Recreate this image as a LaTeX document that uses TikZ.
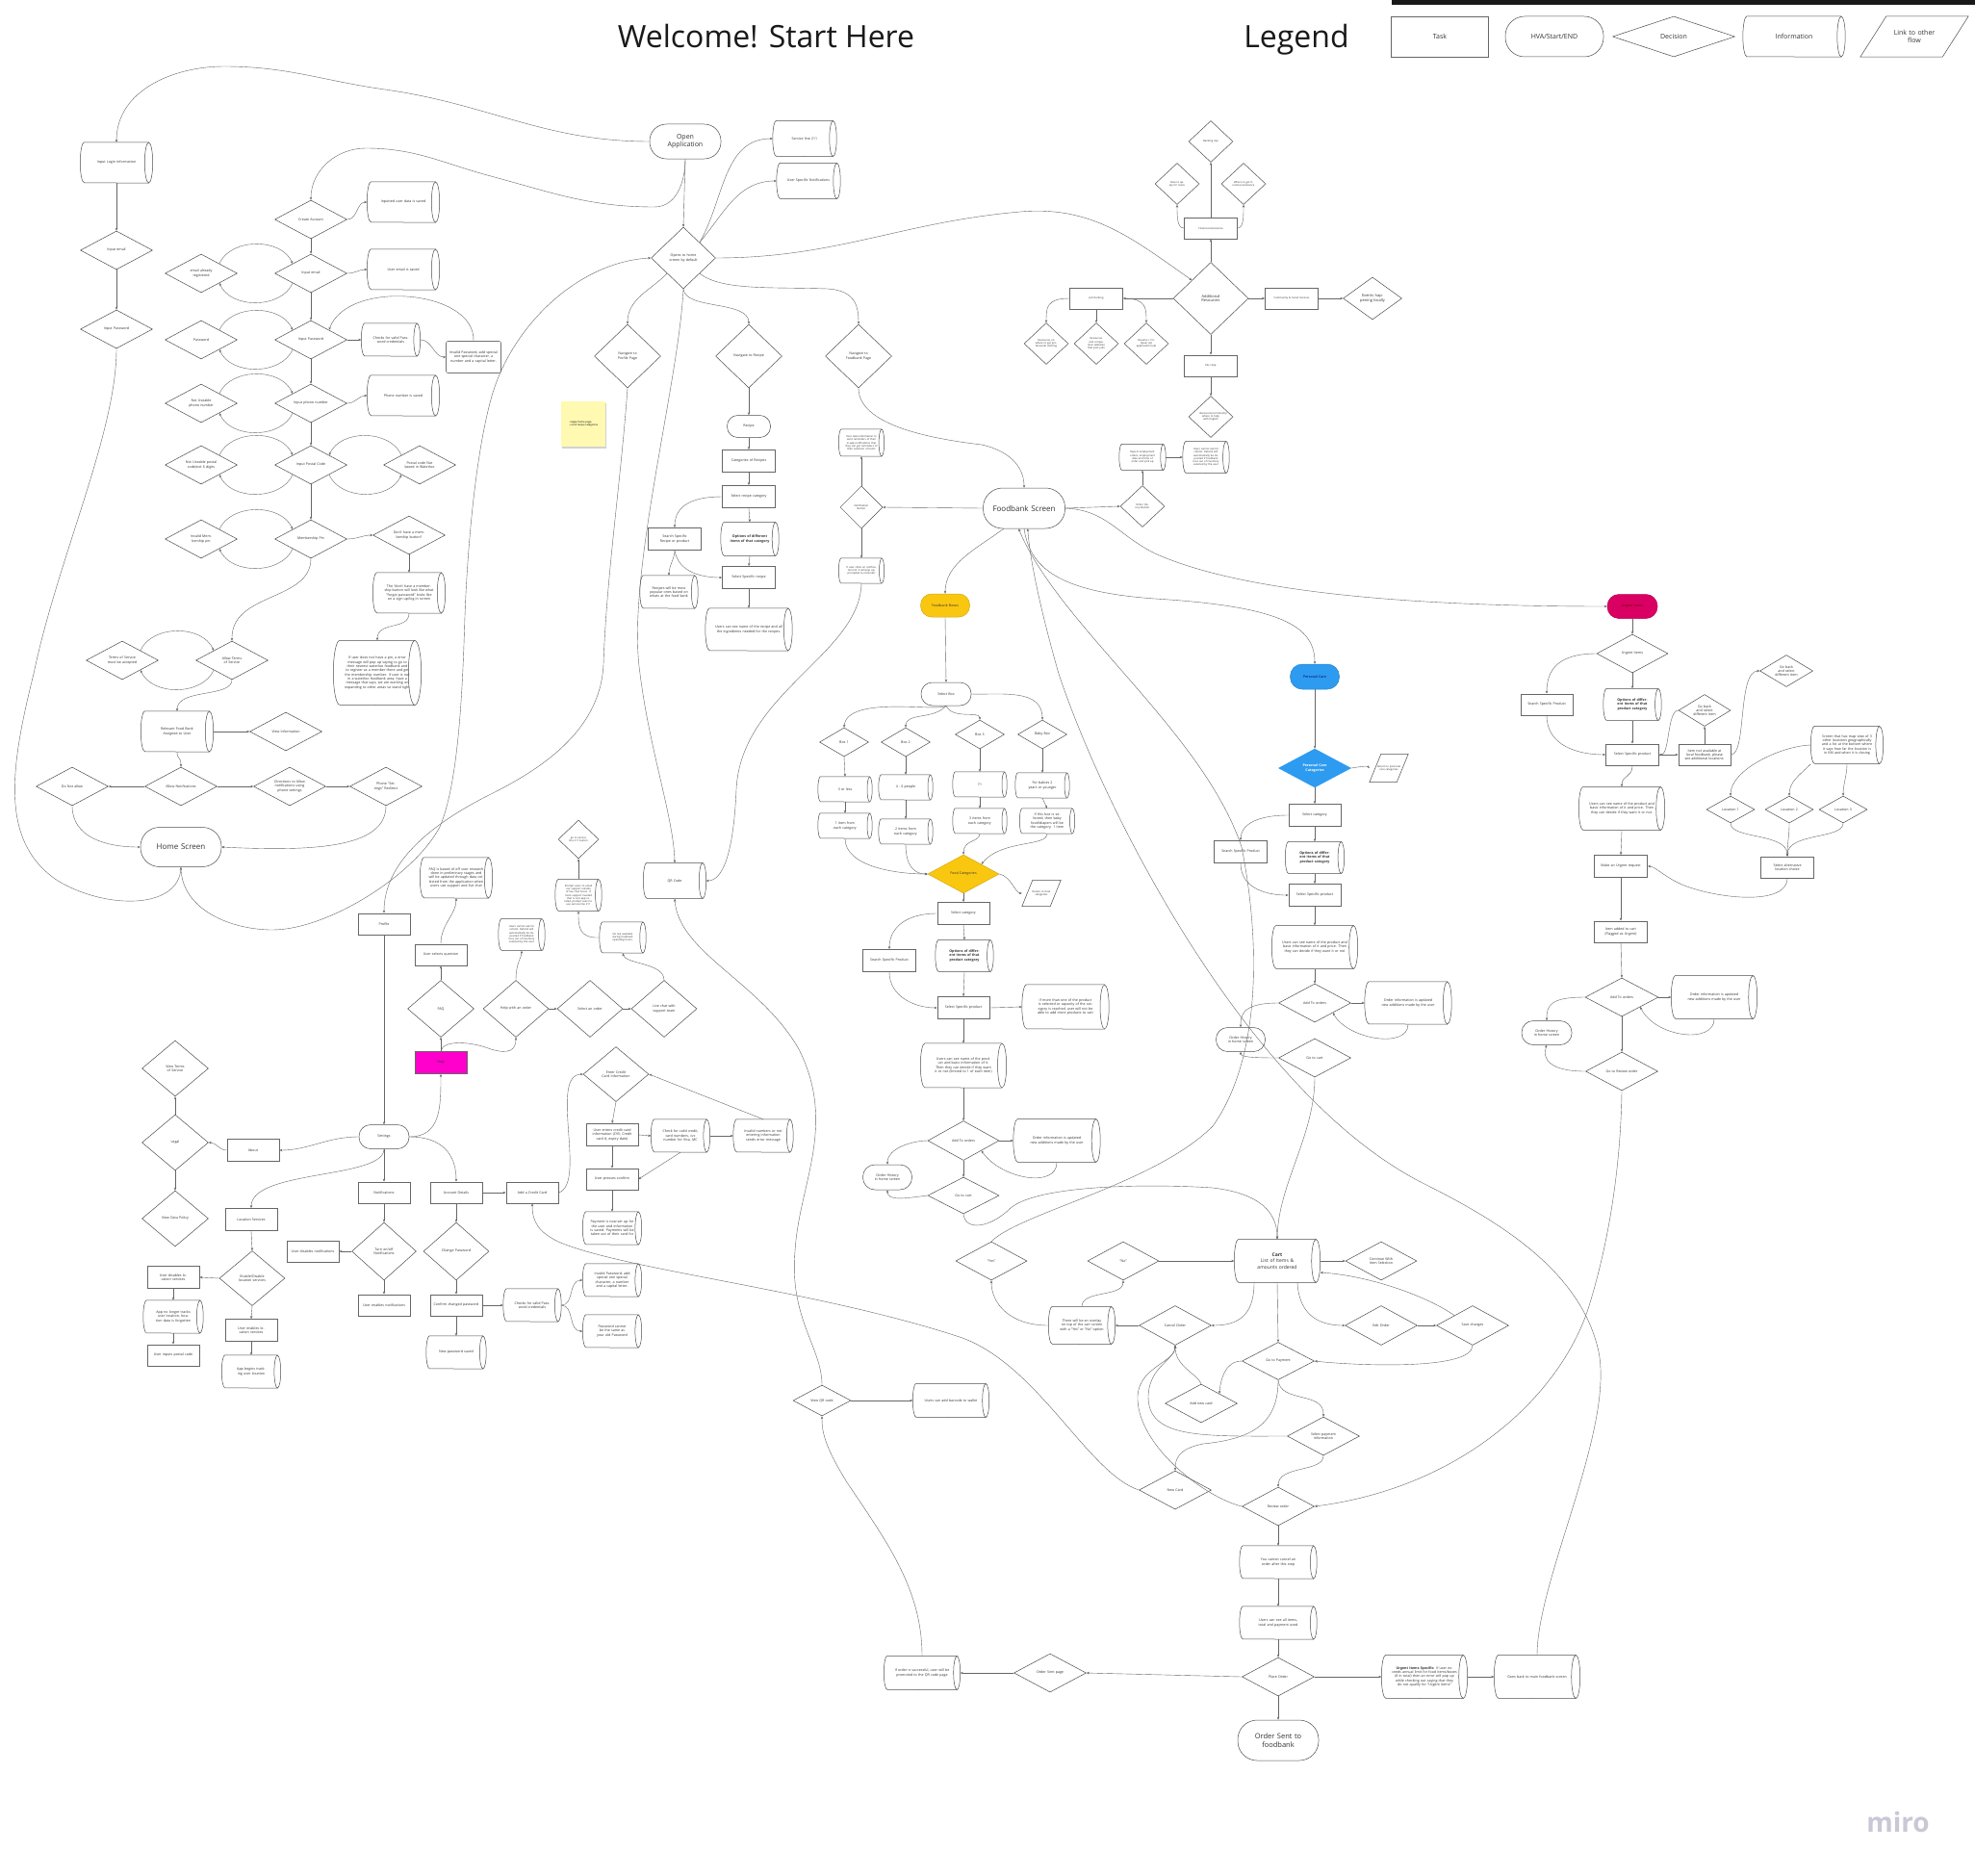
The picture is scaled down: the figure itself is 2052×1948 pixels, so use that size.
\documentclass[tikz,border=0pt]{standalone}
\usepackage{fontspec}
\setmainfont{Open Sans}
\usetikzlibrary{shapes.geometric,arrows.meta,calc,shadows}

\definecolor{fbyellow}{HTML}{FAC710}
\definecolor{pcblue}{HTML}{2D9BF0}
\definecolor{urgpink}{HTML}{DA0063}
\definecolor{helpmag}{HTML}{FF00CC}
\definecolor{stickyy}{HTML}{FFF9B1}
\definecolor{mirogray}{HTML}{C8C8D6}

\newcommand\tf{\fontsize{3.6}{4.3}\selectfont}
\newcommand\xf{\fontsize{2.7}{3.2}\selectfont}
\newcommand\lf{\fontsize{7}{8.4}\selectfont}

\tikzset{
  base/.style={font=\tf, align=center, inner sep=0pt, text=black!80},
  shp/.style={draw=black!70, line width=0.5pt},
  decn/.style={base, diamond, shp, aspect=1.8},
  taskn/.style={base, rectangle, draw=black!60, line width=0.9pt},
  ar/.style={draw=black!60, line width=0.4pt, -{Stealth[length=3pt,width=2.4pt]}},
}

% decision: name, x, y (downwards), width, height, text
\newcommand\nDec[7][]{\pgfmathsetmacro\twid{0.5*#5}%
  \node[decn,minimum width=#5pt,minimum height=#6pt,text width=\twid pt,#1] (#2) at (#3,-#4) {#7};}
% task box
\newcommand\nTask[7][]{\pgfmathsetmacro\twid{#5-5}%
  \node[taskn,minimum width=#5pt,minimum height=#6pt,text width=\twid pt,#1] (#2) at (#3,-#4) {#7};}
% start / end terminal
\newcommand\nTerm[7][]{\pgfmathsetmacro\twid{#5-0.35*#6}\pgfmathsetmacro\rad{0.48*#6}%
  \node[base,rectangle,shp,rounded corners=\rad pt,minimum width=#5pt,minimum height=#6pt,text width=\twid pt,#1] (#2) at (#3,-#4) {#7};}
% information cylinder (lying, cap on the right)
\newcommand\nInfo[7][]{\pgfmathsetmacro\cyr{0.1*#6}\pgfmathsetmacro\cyh{0.5*#6}\pgfmathsetmacro\twid{#5-0.2*#6-8}%
  \node[base,minimum width=#5pt,minimum height=#6pt,text width=\twid pt,#1] (#2) at (#3,-#4) {#7};
  \draw[shp] ($(#2.north east)+(-\cyr,0)$) -- ($(#2.north west)+(\cyr,0)$)
     arc[start angle=90,end angle=270,x radius=\cyr pt,y radius=\cyh pt] -- ($(#2.south east)+(-\cyr,0)$);
  \draw[shp] ($(#2.east)+(-\cyr,0)$) ellipse[x radius=\cyr pt,y radius=\cyh pt];}
% link to other flow (parallelogram): name, x, y, w, h, slant, text
\newcommand\nLink[8][]{\pgfmathsetmacro\twid{#5-#7-4}%
  \node[base,minimum width=#5pt,minimum height=#6pt,text width=\twid pt,#1] (#2) at (#3,-#4) {#8};
  \draw[shp] ($(#2.north west)+(#7,0)$) -- (#2.north east) -- ($(#2.south east)+(-#7,0)$) -- (#2.south west) -- cycle;}
% two arcs between a side decision and a main decision
\newcommand\loopL[2]{%
  \draw[ar] (#1.north east) .. controls ($(#1.north east)+(12,27)$) and ($(#2.north west)+(-12,27)$) .. (#2.north west);
  \draw[ar] (#2.south west) .. controls ($(#2.south west)+(-12,-27)$) and ($(#1.south east)+(12,-27)$) .. (#1.south east);}

\begin{document}
\begin{tikzpicture}[x=1pt,y=1pt]
\fill[white] (0,0) rectangle (2052,-1948);
\useasboundingbox (0,0) rectangle (2052,-1948);

% ---------- titles and legend ----------
\node[anchor=base,font=\fontsize{32}{32}\selectfont,text=black!90] (title) at (796,-50) {Welcome! Start Here};
\node[anchor=base,font=\fontsize{32}{32}\selectfont,text=black!90] (legend) at (1347,-50) {Legend};
\fill[black!90] (1446,0) rectangle (2052,-5);
\nTask[font=\lf]{legTask}{1496}{38}{101}{42}{Task}
\nTerm[font=\lf]{legHVA}{1615}{38}{102}{42}{HVA/Start/END}
\nDec[font=\lf]{legDec}{1739}{38}{127}{42}{Decision}
\nInfo[font=\lf]{legInfo}{1864}{38}{106}{42}{Information}
\nLink[font=\lf]{legLink}{1989}{38}{112}{42}{27}{Link to other\\flow}
\node[font=\fontsize{28}{28}\selectfont\bfseries,text=mirogray] (miro) at (1972,-1893) {miro};

% ---------- login / sign up ----------
\nInfo{loginInfo}{121}{169}{75}{42}{Input Login Information}
\nDec{lEmail}{121}{260}{75}{40}{Input email}
\nDec{lPass}{121}{342}{75}{40}{Input Password}
\nDec{create}{323}{228}{75}{40}{Create Account}
\nInfo{userSaved}{419}{210}{75}{42}{Inputted user data is saved}
\nDec{sEmail}{323}{284}{75}{40}{Input email}
\nDec{emailReg}{209}{284}{75}{40}{email already registered}
\nInfo{emailSaved}{419}{280}{75}{42}{User email is saved}
\nDec{sPass}{323}{353}{75}{40}{Input Password}
\nDec{passBad}{209}{353}{75}{40}{Password}
\nInfo{passCheck}{406}{353}{61}{34}{Checks for valid Password credentials}
\nTask[rounded corners=2pt,draw=black!55,line width=0.6pt]{passInvalid}{492}{371}{57}{33}{Invalid Password, add special one special character, a number and a capital letter.}
\nDec{sPhone}{323}{419}{75}{40}{Input phone number}
\nDec{phoneBad}{209}{419}{75}{40}{Not Useable phone number}
\nInfo{phoneSaved}{419}{411}{75}{42}{Phone number is saved}
\nDec{sPostal}{323}{483}{75}{40}{Input Postal Code}
\nDec{postalBad}{209}{483}{75}{40}{Not Useable postal code(not 6 digits}
\nDec{postalWat}{436}{483}{75}{40}{Postal code Not based in Waterloo}
\nDec{pin}{323}{560}{75}{40}{Membership Pin}
\nDec{pinBad}{209}{560}{75}{40}{Invalid Membership pin}
\nDec{noMember}{425}{556}{75}{40}{Don't have a membership button?}
\nInfo{noMemberInfo}{425}{616}{75}{42}{The “don't have a membership button will look like what “forgot password” looks like on a sign up/log in screen}
\nInfo{noPinInfo}{392}{699}{91}{67}{If user does not have a pin, a error message will pop up saying to go to their nearest waterloo foodbank and to register as a member there and get the membership number. If user is not in a waterloo foodbank area, have a message that says, we are working on expanding to other areas so stand tight}
\nDec{tos}{241}{686}{75}{40}{Allow Terms of Service}
\nDec{tosBad}{127}{686}{75}{40}{Terms of Service must be accepted}
\nInfo{relFB}{184}{760}{75}{42}{Relevant Food Bank Assigned to User}
\nDec{viewInfo}{297}{760}{75}{40}{View Information}
\nDec{doNot}{75}{817}{75}{40}{Do Not allow}
\nDec{allowNot}{188}{817}{75}{40}{Allow Notifications}
\nDec{dirNot}{301}{817}{75}{40}{Directions to Allow notifications using phone settings}
\nDec{phoneSet}{401}{817}{75}{40}{Phone “Settings” Redirect}
\nTerm[font=\fontsize{8}{9.5}\selectfont]{home}{188}{880}{84}{41}{Home Screen}

% ---------- application start ----------
\nTerm[font=\fontsize{7}{8.6}\selectfont]{open}{712}{147}{74}{36}{Open\\Application}
\nInfo{svc}{836}{144}{66}{37}{Service line 211}
\nInfo{userNotif}{840}{188}{66}{37}{User Specific Notifications}
\nDec{opens}{710}{268}{67}{64}{Opens to home screen by default}
\nDec{navProf}{652}{370}{69}{66}{Navigate to Profile Page}
\nDec{navRec}{778}{370}{69}{66}{Navigate to Recipe}
\nDec{navFB}{892}{370}{69}{66}{Navigate to Foodbank Page}
\node[fill=stickyy,minimum width=46pt,minimum height=47pt,font=\xf,align=left,inner sep=2pt,
      drop shadow={shadow xshift=0.6pt,shadow yshift=-2pt,opacity=0.35}] (sticky) at (606,-440) {. swipe home page\\. scroll recipe categories};

% ---------- recipes ----------
\nTerm{recipe}{778}{443}{45}{23}{Recipe}
\nTask{recCat}{778}{479}{55}{23}{Categories of Recipes}
\nTask{recSel}{778}{516}{55}{23}{Select recipe category}
\nTask{recSearch}{701}{560}{55}{23}{Search Specific Recipe or product}
\nInfo{recOpt}{779}{560}{60}{35}{\textbf{Options of different items of that category}}
\nTask{recSpec}{778}{600}{55}{23}{Select Specific recipe}
\nInfo{recPop}{695}{615}{60}{34}{Recipes will be most popular ones based on whats at the food bank}
\nInfo{recSee}{778}{654}{90}{44}{Users can see name of the recipe and all the ingredients needed for the recipes.}

% ---------- foodbank screen ----------
\nTerm[font=\fontsize{8}{9.5}\selectfont]{fbScreen}{1064}{528}{85}{42}{Foodbank Screen}
\nDec[font=\xf]{fbNotifBtn}{895}{527}{44}{44}{Notification Button}
\nInfo[font=\xf]{fbNotifUp}{895}{460}{47}{28}{User data information to send reminders of their in-app notifications that they can get reminders of their selection of items}
\nInfo[font=\xf]{fbNotifDown}{895}{593}{47}{26}{If user clicks on notification list, it will pop up, prompted to reminder}
\nDec[font=\xf]{ohBtn}{1187}{526}{46}{43}{Order History Button}
\nInfo[font=\xf]{ohReport}{1187}{475}{48}{27}{Report employment orders, employment date and time of order and pick up}
\nInfo[font=\xf]{ohRefund}{1253}{475}{48}{33}{Users cannot ask for refund. Refund will automatically be deposited if foodbank runs out of inventory selected by the user}

% ---------- additional resources ----------
\nDec[font=\fontsize{4}{4.8}\selectfont]{addRes}{1258}{310}{78}{75}{Additional Resources}
\nTask[font=\xf]{finAss}{1258}{237}{55}{22}{Financial Assistance}
\nDec[font=\xf]{banking}{1258}{147}{46}{43}{Banking tips}
\nDec[font=\xf]{loans}{1223}{191}{46}{43}{How to apply for loans}
\nDec[font=\xf]{finWhere}{1292}{191}{46}{43}{Where to get financial assistance}
\nTask[font=\xf]{job}{1139}{310}{55}{22}{Job Hunting}
\nDec[font=\xf]{job1}{1087}{357}{46}{43}{Resources on where to get professional clothing}
\nDec[font=\xf]{job2}{1139}{357}{46}{43}{Resources and companies/ websites that post jobs}
\nDec[font=\xf]{job3}{1191}{357}{46}{43}{Resume / Critique/ job application help}
\nTask[font=\xf]{comm}{1342}{310}{55}{22}{Community \& Social Services}
\nDec[font=\fontsize{4}{4.8}\selectfont]{events}{1426}{310}{61}{44}{Events happening locally}
\nTask[font=\xf]{esl}{1258}{380}{55}{22}{ESL Help}
\nDec[font=\xf]{eslRes}{1258}{433}{46}{43}{Resources/community where to help with English}

% ---------- foodbank boxes ----------
\nTerm[fill=fbyellow,draw=fbyellow!85!black]{fbBoxes}{982}{629}{51}{24}{Foodbank Boxes}
\nTerm{selBox}{983}{721}{52}{24}{Select Box}
\nDec{box1}{877}{771}{51}{30}{Box 1}
\nDec{box2}{941}{771}{51}{30}{Box 2}
\nDec{box3}{1018}{763}{51}{30}{Box 3}
\nDec{babyBox}{1083}{763}{51}{30}{Baby Box}
\nInfo{b1a}{878}{820}{56}{26}{3 or less}
\nInfo{b1b}{878}{858}{56}{26}{1 item from each category}
\nInfo{b2a}{941}{818}{56}{26}{4 - 6 people}
\nInfo{b2b}{941}{864}{56}{26}{2 items from each category}
\nInfo{b3a}{1018}{815}{56}{26}{7+}
\nInfo{b3b}{1018}{853}{56}{26}{3 items from each category}
\nInfo{bba}{1083}{816}{56}{26}{For babies 2 years or younger}
\nInfo{bbb}{1088}{853}{57}{26}{If this box is selected, then baby food/diapers will be the category. 1 item}
\nDec[fill=fbyellow,draw=fbyellow!85!black]{foodCat}{1001}{908}{74}{40}{Food Categories}
\nLink[font=\xf]{foodRet}{1082}{928}{40}{27}{11}{Return to food categories}
\nTask{fcSel}{1001}{949}{54}{23}{Select category}
\nTask{fcSearch}{924}{998}{55}{23}{Search Specific Product}
\nInfo{fcOpt}{1002}{993}{60}{33}{\textbf{Options of different items of that product category}}
\nTask{fcSpec}{1001}{1047}{54}{23}{Select Specific product}
\nInfo{fcMore}{1107}{1046}{90}{46}{If more than one of the product is selected or capacity of the category is reached, user will not be able to add more products to cart}
\nInfo{fcSee}{1001}{1107}{89}{46}{Users can see name of the product and basic information of it. Then they can decide if they want it or not (limited to 1 of each item)}
\nDec{fcAdd}{1001}{1185}{74}{41}{Add To orders}
\nInfo{fcOrdInfo}{1098}{1185}{90}{45}{Order information is updated new additions made by the user}
\nTerm{fcHist}{922}{1223}{51}{26}{Order History in home screen}
\nDec{fcCart}{1001}{1242}{74}{38}{Go to cart}

% ---------- personal care ----------
\nTerm[fill=pcblue,draw=pcblue!85!black,text=blue!35!black]{pcTerm}{1366}{703}{51}{26}{Personal Care}
\nDec[fill=pcblue,draw=pcblue,text=white,font=\tf\bfseries]{pcCat}{1366}{798}{75}{40}{Personal Care Categories}
\nLink[font=\xf]{pcRet}{1443}{798}{40}{29}{12}{Return to personal care categories}
\nTask{pcSel}{1366}{847}{54}{23}{Select category}
\nTask{pcSearch}{1289}{885}{55}{23}{Search Specific Product}
\nInfo{pcOpt}{1366}{891}{61}{33}{\textbf{Options of different items of that product category}}
\nTask{pcSpec}{1366}{930}{54}{23}{Select Specific product}
\nInfo{pcSee}{1366}{984}{89}{45}{Users can see name of the product and basic information of it and price. Then they can decide if they want it or not}
\nDec{pcAdd}{1366}{1042}{75}{40}{Add To orders}
\nInfo{pcOrdInfo}{1463}{1042}{90}{44}{Order information is updated new additions made by the user}
\nTerm{pcHist}{1289}{1080}{51}{25}{Order History in home screen}
\nDec{pcCart}{1366}{1099}{75}{40}{Go to cart}

% ---------- urgent items ----------
\nTerm[fill=urgpink,draw=urgpink!85!black,text=red!40!black]{urgTerm}{1696}{630}{52}{25}{Urgent Items}
\nDec{urgDec}{1696}{679}{74}{40}{Urgent Items}
\nTask{urgSearch}{1607}{732}{54}{22}{Search Specific Product}
\nInfo{urgOpt}{1696}{732}{60}{33}{\textbf{Options of different items of that product category}}
\nTask{urgSpec}{1696}{784}{55}{22}{Select Specific product}
\nTask{urgNA}{1771}{784}{54}{22}{Item not available at local foodbank, please see additional locations.}
\nDec{urgBack1}{1771}{738}{54}{33}{Go back and select different item}
\nDec{urgBack2}{1856}{697}{55}{33}{Go back and select different item}
\nInfo{urgMap}{1919}{774}{75}{39}{Screen that has map view of 3 other locations geographically and a list at the bottom where it says how far the location is in KM and when it is closing}
\nDec{loc1}{1798}{841}{50}{28}{Location 1}
\nDec{loc2}{1859}{841}{50}{28}{Location 2}
\nDec{loc3}{1915}{841}{50}{28}{Location 3}
\nTask{urgAlt}{1857}{901}{55}{22}{Select alternative location choice}
\nInfo{urgSee}{1685}{840}{89}{45}{Users can see name of the product and basic information of it and price. Then they can decide if they want it or not.}
\nTask{urgMake}{1684}{900}{55}{23}{Make an Urgent request}
\nTask{urgAdded}{1684}{968}{55}{22}{Item added to cart (Flagged as Urgent)}
\nDec{urgAdd}{1685}{1036}{76}{40}{Add To orders}
\nInfo{urgOrdInfo}{1781}{1036}{89}{45}{Order information is updated new additions made by the user}
\nTerm{urgHist}{1607}{1073}{52}{25}{Order History in home screen}
\nDec{urgReview}{1685}{1113}{75}{40}{Go to Review order}

% ---------- cart and checkout ----------
\nInfo[font=\fontsize{5}{6.2}\selectfont]{cart}{1327}{1310}{89}{45}{\textbf{Cart}\\List of Items \& amounts ordered}
\nDec{yes}{1030}{1310}{74}{40}{“Yes”}
\nDec{no}{1167}{1310}{74}{40}{“No”}
\nDec{contSel}{1435}{1310}{74}{40}{Continue With Item Selection}
\nInfo{overlay}{1124}{1377}{69}{39}{There will be an overlay on top of the cart screen with a “Yes” or “No” option}
\nDec{cancel}{1221}{1377}{75}{41}{Cancel Order}
\nDec{edit}{1435}{1377}{75}{41}{Edit Order}
\nDec{save}{1530}{1377}{75}{41}{Save changes}
\nDec{goPay}{1328}{1414}{75}{39}{Go to Payment}
\nDec{addCard}{1248}{1458}{75}{40}{Add new card}
\nDec{selPay}{1375}{1492}{75}{40}{Select payment information}
\nDec{newCard}{1221}{1548}{75}{40}{New Card}
\nDec{review}{1328}{1565}{75}{40}{Review order}
\nInfo{noCancel}{1328}{1623}{80}{34}{You cannot cancel an order after this step}
\nInfo{seeAll}{1328}{1686}{80}{34}{Users can see all items, total and payment used}
\nDec{place}{1328}{1742}{75}{40}{Place Order}
\nDec{sentPage}{1091}{1738}{75}{40}{Order Sent page}
\nInfo{success}{958}{1738}{79}{35}{If order is successful, user will be promoted to the QR code page}
\nInfo{urgSpecInfo}{1480}{1742}{89}{45}{\textbf{Urgent Items Specific:} If user exceeds annual limit for food items/boxes (8 in total) then an error will pop up while checking out saying that they do not qualify for “Urgent Items”}
\nInfo{goBack}{1597}{1742}{89}{45}{Goes back to main foodbank screen}
\nTerm[font=\fontsize{7.5}{9}\selectfont]{sent}{1328}{1808}{84}{42}{Order Sent to\\foodbank}
\nDec{viewQR}{854}{1455}{60}{32}{View QR code}
\nInfo{wallet}{988}{1455}{79}{35}{Users can add barcode to wallet}
\nInfo{qr}{701}{915}{65}{37}{QR Code}

% ---------- profile / settings / help ----------
\nTask{profile}{399}{960}{54}{22}{Profile}
\nTerm{settings}{399}{1181}{52}{25}{Settings}
\nTask{about}{263}{1195}{54}{23}{About}
\nDec{legal}{182}{1187}{69}{58}{Legal}
\nDec{viewTos}{182}{1110}{69}{58}{View Terms of Service}
\nDec{viewData}{182}{1266}{69}{58}{View Data Policy}
\nTask{locServ}{261}{1267}{54}{23}{Location Services}
\nDec{enLoc}{262}{1328}{68}{57}{Enable/Disable location services}
\nTask{disLoc}{180}{1327}{54}{23}{User disables location services}
\nInfo{noTrack}{180}{1368}{62}{34}{App no longer tracks user location, location data is forgotten}
\nTask{inPostal}{180}{1408}{54}{22}{User inputs postal code}
\nTask{enLocU}{261}{1382}{54}{23}{User enables location services}
\nInfo{track}{261}{1425}{61}{34}{App begins tracking user location}
\nTask{notifs}{399}{1239}{54}{22}{Notifications}
\nDec{turnNot}{399}{1300}{67}{60}{Turn on/off Notifications}
\nTask{disNot}{325}{1300}{54}{22}{User disables notifications}
\nTask{enNot}{399}{1356}{54}{22}{User enables notifications}
\nTask{acct}{474}{1239}{54}{22}{Account Details}
\nDec{chPass}{474}{1300}{68}{60}{Change Password}
\nTask{confPass}{474}{1356}{54}{22}{Confirm changed password}
\nInfo{newPass}{474}{1405}{62}{34}{New password saved}
\nInfo{chkPass}{553}{1356}{60}{34}{Checks for valid Password credentials}
\nInfo{badPass}{636}{1330}{61}{34}{Invalid Password, add special one special character, a number and a capital letter.}
\nInfo{samePass}{636}{1383}{61}{34}{Password cannot be the same as your old Password}
\nTask[fill=helpmag]{help}{458}{1104}{54}{23}{Help}
\nDec{faq}{458}{1048}{69}{59}{FAQ}
\nTask{faqQ}{458}{992}{54}{22}{User selects question}
\nInfo{faqInfo}{474}{912}{75}{42}{FAQ is based of off user research done in preliminary stages and will be updated through data collected from the application when users use support and live chat}
\nDec{helpOrder}{536}{1048}{68}{59}{Help with an order}
\nDec{selOrder}{613}{1048}{68}{59}{Select an order}
\nDec{live}{690}{1048}{68}{59}{Live chat with support team}
\nInfo[font=\xf]{refund}{542}{971}{48}{33}{Users cannot ask for refund. Refund will automatically be deposited if foodbank runs out of inventory selected by the user}
\nInfo[font=\xf]{noLive}{647}{974}{48}{32}{No live available during foodbank operating hours.}
\nInfo[font=\xf]{prompt}{601}{930}{48}{33}{Prompt users to email our support outside of live chat hours. If more support needed that is non-app related, prompt users to use service line 211}
\nDec[font=\xf]{svcLine}{601}{872}{42}{40}{go to service line 211 button}
\nTask{addCC}{553}{1239}{54}{22}{Add a Credit Card}
\nDec{enterCC}{640}{1116}{68}{57}{Enter Credit Card Information}
\nTask{userCC}{636}{1179}{54}{23}{User enters credit card information (CVV, Credit card \#, expiry date)}
\nInfo{chkCC}{707}{1180}{61}{34}{Check for valid credit, card numbers, cvc number for Visa, MC}
\nInfo{badCC}{793}{1180}{62}{34}{Invalid numbers or not entering information sends error message}
\nTask{confirm}{636}{1225}{54}{22}{User presses confirm}
\nInfo{paySet}{636}{1276}{61}{34}{Payment is now set up for the user and information is saved. Payments will be taken out of their card for}

% ================= connectors =================
% login flow
\draw[ar] (open.west) to[out=180,in=-8] (400,-93) to[out=172,in=0] (233,-69) to[out=180,in=90] (loginInfo.north);
\draw[ar] (loginInfo.south) -- (lEmail.north);
\draw[ar] (lEmail.south) -- (lPass.north);
\draw[ar] (lPass.south) .. controls (121,-450) and (60,-580) .. (35,-700) .. controls (10,-800) and (0,-875) .. (60,-915) .. controls (110,-945) and (185,-945) .. (home.south);
% sign up flow
\draw[ar] (open.south) to[out=-90,in=0] (680,-215) to[out=180,in=-15] (510,-183) to[out=165,in=0] (380,-154) to[out=180,in=90] (create.north);
\draw[ar] (create.east) to[out=0,in=180] (userSaved.west);
\draw[ar] (create.south) -- (sEmail.north);
\loopL{emailReg}{sEmail}
\draw[ar] (sEmail.east) to[out=0,in=180] (emailSaved.west);
\draw[ar] (sEmail.south) -- (sPass.north);
\loopL{passBad}{sPass}
\draw[ar] (sPass.east) -- (passCheck.west);
\draw[ar] (passCheck.east) to[out=0,in=180] (passInvalid.west);
\draw[ar] (passInvalid.north) .. controls (494,-300) and (360,-290) .. (sPass.north east);
\draw[ar] (sPass.south) -- (sPhone.north);
\loopL{phoneBad}{sPhone}
\draw[ar] (sPhone.east) to[out=0,in=180] (phoneSaved.west);
\draw[ar] (sPhone.south) -- (sPostal.north);
\loopL{postalBad}{sPostal}
\draw[ar] (postalWat.north west) .. controls ($(postalWat.north west)+(-12,27)$) and ($(sPostal.north east)+(12,27)$) .. (sPostal.north east);
\draw[ar] (sPostal.south east) .. controls ($(sPostal.south east)+(12,-27)$) and ($(postalWat.south west)+(-12,-27)$) .. (postalWat.south west);
\draw[ar] (sPostal.south) -- (pin.north);
\loopL{pinBad}{pin}
\draw[ar] (pin.east) to[out=0,in=180] (noMember.west);
\draw[ar] (noMember.south) -- (noMemberInfo.north);
\draw[ar] (noMemberInfo.south) .. controls (425,-655) and (392,-645) .. (noPinInfo.north);
\draw[ar] (pin.south) .. controls (323,-625) and (240,-615) .. (tos.north);
\loopL{tosBad}{tos}
\draw[ar] (tos.south) .. controls (241,-725) and (184,-715) .. (relFB.north);
\draw[ar] (relFB.east) -- (viewInfo.west);
\draw[ar] (relFB.south) .. controls (184,-790) and (188,-785) .. (allowNot.north);
\draw[ar] (allowNot.west) -- (doNot.east);
\draw[ar] (allowNot.east) -- (dirNot.west);
\draw[ar] (dirNot.east) -- (phoneSet.west);
\draw[ar] (doNot.south) .. controls (75,-870) and (110,-880) .. (home.west);
\draw[ar] (phoneSet.south) .. controls (401,-880) and (330,-885) .. (home.east);
% home screen back to the start screen
\draw[ar] (home.south) .. controls (188,-945) and (240,-966) .. (283,-966) .. controls (340,-966) and (430,-910) .. (457,-859)
   .. controls (478,-810) and (481,-700) .. (483,-640) .. controls (486,-560) and (495,-470) .. (510,-415)
   .. controls (530,-340) and (600,-272) .. (opens.west);

% start screen
\draw[ar] (open.south) -- (opens.north);
\draw[ar] (opens.north east) to[out=60,in=180] (svc.west);
\draw[ar] (opens.north east) to[out=50,in=180] (userNotif.west);
\draw[ar] (opens.east) to[out=0,in=185] (1060,-220) to[out=5,in=145] (addRes.north west);
\draw[ar] (opens.south west) to[out=225,in=90] (navProf.north);
\draw[ar] (opens.south) .. controls (712,-322) and (778,-312) .. (navRec.north);
\draw[ar] (opens.south east) .. controls (750,-302) and (800,-298) .. (860,-300) .. controls (890,-302) and (892,-320) .. (navFB.north);
\draw[ar] (opens.south) .. controls (705,-400) and (650,-600) .. (665,-700) .. controls (675,-780) and (700,-850) .. (qr.north);
\draw[ar] (navProf.south) .. controls (645,-500) and (630,-600) .. (627,-690) .. controls (624,-760) and (560,-800) .. (510,-825) .. controls (440,-860) and (399,-900) .. (profile.north);

% recipes
\draw[ar] (navRec.south) -- (recipe.north);
\draw[ar] (recipe.south) -- (recCat.north);
\draw[ar] (recCat.south) -- (recSel.north);
\draw[ar] (recSel.west) .. controls (720,-516) and (701,-525) .. (recSearch.north);
\draw[ar] (recSel.south) -- (recOpt.north);
\draw[ar] (recOpt.south) -- (recSpec.north);
\draw[ar] (recSearch.south) .. controls (701,-580) and (695,-588) .. (recPop.north);
\draw[ar] (recSearch.south) .. controls (705,-595) and (730,-600) .. (recSpec.west);
\draw[ar] (recSpec.south) -- (recSee.north);

% foodbank screen
\draw[ar] (navFB.south) .. controls (892,-440) and (960,-455) .. (1020,-462) .. controls (1055,-470) and (1064,-490) .. (fbScreen.north);
\draw[ar] (fbScreen.west) -- (fbNotifBtn.east);
\draw[ar] (fbNotifBtn.north) -- (fbNotifUp.south);
\draw[ar] (fbNotifBtn.south) -- (fbNotifDown.north);
\draw[ar] (fbNotifDown.south) .. controls (893,-680) and (770,-720) .. (765,-820) .. controls (762,-890) and (750,-915) .. (qr.east);
\draw[ar] (fbScreen.east) -- (ohBtn.west);
\draw[ar] (ohBtn.north) -- (ohReport.south);
\draw[ar] (ohReport.east) -- (ohRefund.west);
\draw[ar] (fbScreen.225) .. controls (1015,-570) and (982,-585) .. (fbBoxes.north);
\draw[ar] (fbScreen.east) .. controls (1150,-530) and (1160,-555) .. (1200,-575) .. controls (1300,-620) and (1500,-630) .. (urgTerm.west);
\draw[ar] (fbScreen.south) .. controls (1070,-590) and (1100,-615) .. (1200,-622) .. controls (1330,-630) and (1366,-650) .. (pcTerm.north);
\draw[ar] (goBack.north) .. controls (1597,-1640) and (1680,-1480) .. (1660,-1400) .. controls (1640,-1320) and (1560,-1270) .. (1480,-1230)
   .. controls (1300,-1140) and (1150,-850) .. (1100,-700) .. controls (1080,-630) and (1070,-580) .. (fbScreen.280);
\draw[ar] (yes.north) .. controls (1060,-1260) and (1200,-1230) .. (1260,-1170) .. controls (1310,-1100) and (1310,-980) .. (1290,-880)
   .. controls (1250,-760) and (1100,-650) .. (fbScreen.255);

% additional resources
\draw[ar] (addRes.north) -- (finAss.south);
\draw[ar] (finAss.north) -- (banking.south);
\draw[ar] (finAss.west) .. controls (1223,-237) and (1223,-225) .. (loans.south);
\draw[ar] (finAss.east) .. controls (1292,-237) and (1292,-225) .. (finWhere.south);
\draw[ar] (addRes.west) -- (job.east);
\draw[ar] (job.west) .. controls (1087,-310) and (1087,-320) .. (job1.north);
\draw[ar] (job.south) -- (job2.north);
\draw[ar] (job.east) .. controls (1191,-310) and (1191,-320) .. (job3.north);
\draw[ar] (addRes.east) -- (comm.west);
\draw[ar] (comm.east) -- (events.west);
\draw[ar] (addRes.south) -- (esl.north);
\draw[ar] (esl.south) -- (eslRes.north);

% foodbank boxes
\draw[ar] (fbBoxes.south) -- (selBox.north);
\draw[ar] (selBox.south) .. controls (975,-740) and (880,-722) .. (box1.north);
\draw[ar] (selBox.south) .. controls (970,-748) and (941,-740) .. (box2.north);
\draw[ar] (selBox.south) .. controls (990,-748) and (1018,-738) .. (box3.north);
\draw[ar] (selBox.east) .. controls (1040,-722) and (1083,-715) .. (babyBox.north);
\draw[ar] (box1.south) -- (b1a.north);
\draw[ar] (b1a.south) -- (b1b.north);
\draw[ar] (box2.south) -- (b2a.north);
\draw[ar] (b2a.south) -- (b2b.north);
\draw[ar] (box3.south) -- (b3a.north);
\draw[ar] (b3a.south) -- (b3b.north);
\draw[ar] (babyBox.south) -- (bba.north);
\draw[ar] (bba.south) -- (bbb.north);
\draw[ar] (b1b.south) .. controls (878,-900) and (930,-908) .. (foodCat.west);
\draw[ar] (b2b.south) .. controls (941,-900) and (950,-908) .. (foodCat.west);
\draw[ar] (b3b.south) .. controls (1018,-875) and (1001,-872) .. (foodCat.north);
\draw[ar] (bbb.south) .. controls (1088,-880) and (1040,-872) .. (foodCat.north east);
\draw[ar] (foodCat.east) .. controls (1050,-910) and (1055,-928) .. (foodRet.west);
\draw[ar] (foodCat.south) -- (fcSel.north);
\draw[ar] (fcSel.west) .. controls (940,-949) and (924,-965) .. (fcSearch.north);
\draw[ar] (fcSel.south) -- (fcOpt.north);
\draw[ar] (fcOpt.south) -- (fcSpec.north);
\draw[ar] (fcSearch.south) .. controls (924,-1035) and (950,-1047) .. (fcSpec.west);
\draw[ar] (fcSpec.east) -- (fcMore.west);
\draw[ar] (fcSpec.south) -- (fcSee.north);
\draw[ar] (fcSee.south) -- (fcAdd.north);
\draw[ar] (fcAdd.east) -- (fcOrdInfo.west);
\draw[ar] (fcOrdInfo.south) .. controls (1098,-1235) and (1040,-1225) .. (fcAdd.south east);
\draw[ar] (fcAdd.west) .. controls (950,-1185) and (922,-1192) .. (fcHist.north);
\draw[ar] (fcAdd.south) -- (fcCart.north);
\draw[ar] (fcCart.west) .. controls (940,-1245) and (922,-1248) .. (fcHist.south);
\draw[ar] (fcCart.south) .. controls (1003,-1280) and (1030,-1275) .. (1050,-1255) .. controls (1080,-1230) and (1200,-1230) .. (1260,-1234) .. controls (1310,-1240) and (1327,-1260) .. (cart.north);

% personal care
\draw[ar] (pcTerm.south) -- (pcCat.north);
\draw[ar] (pcCat.east) .. controls (1405,-798) and (1420,-795) .. (pcRet.west);
\draw[ar] (pcCat.south) -- (pcSel.north);
\draw[ar] (pcSel.west) .. controls (1300,-847) and (1289,-860) .. (pcSearch.north);
\draw[ar] (pcSel.south) -- (pcOpt.north);
\draw[ar] (pcOpt.south) -- (pcSpec.north);
\draw[ar] (pcSearch.south) .. controls (1289,-925) and (1320,-930) .. (pcSpec.west);
\draw[ar] (pcSpec.south) -- (pcSee.north);
\draw[ar] (pcSee.south) -- (pcAdd.north);
\draw[ar] (pcAdd.east) -- (pcOrdInfo.west);
\draw[ar] (pcOrdInfo.south) .. controls (1463,-1090) and (1400,-1080) .. (pcAdd.south east);
\draw[ar] (pcAdd.west) .. controls (1290,-1042) and (1289,-1055) .. (pcHist.north);
\draw[ar] (pcCart.west) .. controls (1300,-1099) and (1289,-1098) .. (pcHist.south);
\draw[ar] (pcCart.south) .. controls (1366,-1180) and (1328,-1230) .. (cart.north);

% urgent items
\draw[ar] (urgTerm.south) -- (urgDec.north);
\draw[ar] (urgDec.west) .. controls (1620,-679) and (1607,-695) .. (urgSearch.north);
\draw[ar] (urgDec.south) -- (urgOpt.north);
\draw[ar] (urgOpt.south) -- (urgSpec.north);
\draw[ar] (urgSearch.south) .. controls (1607,-775) and (1640,-784) .. (urgSpec.west);
\draw[ar] (urgSpec.east) -- (urgNA.west);
\draw[ar] (urgNA.north) -- (urgBack1.south);
\draw[ar] (urgBack1.west) .. controls (1732,-738) and (1735,-784) .. (urgSpec.east);
\draw[ar] (urgNA.east) .. controls (1815,-784) and (1805,-697) .. (urgBack2.west);
\draw[ar] (urgSpec.south) .. controls (1696,-808) and (1685,-805) .. (urgSee.north);
\draw[ar] (urgSee.south) -- (urgMake.north);
\draw[ar] (urgMake.south) -- (urgAdded.north);
\draw[ar] (urgAdded.south) -- (urgAdd.north);
\draw[ar] (urgAdd.east) -- (urgOrdInfo.west);
\draw[ar] (urgOrdInfo.south) .. controls (1781,-1085) and (1720,-1078) .. (urgAdd.south east);
\draw[ar] (urgAdd.west) .. controls (1610,-1036) and (1607,-1045) .. (urgHist.north);
\draw[ar] (urgAdd.south) -- (urgReview.north);
\draw[ar] (urgReview.west) .. controls (1610,-1113) and (1602,-1100) .. (urgHist.south);
\draw[ar] (urgMap.west) .. controls (1850,-775) and (1798,-800) .. (loc1.north);
\draw[ar] (urgMap.south west) .. controls (1870,-805) and (1859,-812) .. (loc2.north);
\draw[ar] (urgMap.south) .. controls (1919,-805) and (1915,-815) .. (loc3.north);
\draw[ar] (loc1.south) .. controls (1798,-872) and (1857,-865) .. (urgAlt.north);
\draw[ar] (loc2.south) .. controls (1859,-870) and (1857,-875) .. (urgAlt.north);
\draw[ar] (loc3.south) .. controls (1915,-872) and (1857,-865) .. (urgAlt.north);
\draw[ar] (urgAlt.south) .. controls (1857,-940) and (1790,-935) .. (1750,-920) .. controls (1730,-912) and (1720,-900) .. (urgMake.east);
\draw[ar] (urgReview.south) .. controls (1684,-1200) and (1675,-1280) .. (1650,-1360) .. controls (1620,-1450) and (1520,-1545) .. (review.east);

% cart and checkout
\draw[ar] (cart.east) -- (contSel.west);
\draw[ar] (no.east) -- (cart.west);
\draw[ar] ($(cart.south)+(-24,0)$) .. controls (1303,-1368) and (1285,-1377) .. (cancel.east);
\draw[ar] (cancel.west) -- (overlay.east);
\draw[ar] (overlay.north) .. controls (1124,-1340) and (1167,-1348) .. (no.south);
\draw[ar] (overlay.west) .. controls (1050,-1377) and (1030,-1355) .. (yes.south);
\draw[ar] ($(cart.south)+(21,0)$) .. controls (1350,-1370) and (1375,-1377) .. (edit.west);
\draw[ar] (edit.east) -- (save.west);
\draw[ar] (save.north west) .. controls (1480,-1345) and (1420,-1325) .. ($(cart.east)+(0,-12)$);
\draw[ar] (save.south) .. controls (1530,-1425) and (1400,-1418) .. (goPay.east);
\draw[ar] (cart.south) -- (goPay.north);
\draw[ar] (goPay.west) .. controls (1272,-1414) and (1268,-1435) .. (addCard.north east);
\draw[ar] (addCard.north) .. controls (1245,-1428) and (1221,-1420) .. (cancel.south);
\draw[ar] (goPay.south) .. controls (1330,-1458) and (1376,-1445) .. (selPay.north);
\draw[ar] (goPay.south) .. controls (1328,-1480) and (1300,-1495) .. (1250,-1500) .. controls (1225,-1505) and (1221,-1515) .. (newCard.north);
\draw[ar] (selPay.west) .. controls (1250,-1492) and (1192,-1495) .. (1193,-1450) .. controls (1194,-1420) and (1221,-1412) .. (cancel.south);
\draw[ar] (selPay.south) .. controls (1375,-1530) and (1328,-1522) .. (review.north);
\draw[ar] (review.west) .. controls (1250,-1555) and (1180,-1500) .. (1182,-1450) .. controls (1184,-1420) and (1221,-1415) .. (cancel.south);
\draw[ar] (review.south) -- (noCancel.north);
\draw[ar] (noCancel.south) -- (seeAll.north);
\draw[ar] (seeAll.south) -- (place.north);
\draw[ar] (place.south) -- (sent.north);
\draw[ar] (place.west) -- (sentPage.east);
\draw[ar] (sentPage.west) -- (success.east);
\draw[ar] (place.east) -- (urgSpecInfo.west);
\draw[ar] (urgSpecInfo.east) -- (goBack.west);
\draw[ar] (success.north) .. controls (958,-1650) and (920,-1600) .. (880,-1540) .. controls (855,-1500) and (854,-1485) .. (viewQR.south);
\draw[ar] (viewQR.east) -- (wallet.west);
\draw[ar] (viewQR.north) .. controls (854,-1400) and (820,-1370) .. (826,-1300) .. controls (830,-1230) and (870,-1170) .. (830,-1090) .. controls (790,-1020) and (705,-990) .. (qr.south);
\draw[ar] (newCard.west) .. controls (1130,-1530) and (1080,-1420) .. (1000,-1390) .. controls (850,-1340) and (650,-1320) .. (580,-1290) .. controls (560,-1280) and (553,-1270) .. (addCC.south);

% profile, settings and help
\draw[ar] (profile.south) -- (settings.north);
\draw[ar] (settings.west) .. controls (340,-1181) and (320,-1195) .. (about.east);
\draw[ar] (about.west) to[out=180,in=0] (legal.east);
\draw[ar] (legal.north) -- (viewTos.south);
\draw[ar] (legal.south) -- (viewData.north);
\draw[ar] (settings.south) .. controls (399,-1225) and (261,-1215) .. (locServ.north);
\draw[ar] (settings.south) -- (notifs.north);
\draw[ar] (settings.east) .. controls (460,-1181) and (474,-1200) .. (acct.north);
\draw[ar] (settings.east) .. controls (458,-1181) and (458,-1150) .. (help.south);
\draw[ar] (help.north) -- (faq.south);
\draw[ar] (faq.north) -- (faqQ.south);
\draw[ar] (faqQ.north) .. controls (458,-960) and (474,-950) .. (faqInfo.south);
\draw[ar] (help.north) .. controls (460,-1080) and (490,-1082) .. (510,-1090) .. controls (530,-1096) and (536,-1090) .. (helpOrder.south);
\draw[ar] (helpOrder.north) .. controls (536,-1000) and (542,-995) .. (refund.south);
\draw[ar] (helpOrder.east) -- (selOrder.west);
\draw[ar] (selOrder.east) -- (live.west);
\draw[ar] (live.north) .. controls (690,-1000) and (650,-1002) .. (noLive.south);
\draw[ar] (noLive.west) .. controls (601,-975) and (601,-962) .. (prompt.south);
\draw[ar] (prompt.north) -- (svcLine.south);
\draw[ar] (locServ.south) -- (enLoc.north);
\draw[ar] (enLoc.west) -- (disLoc.east);
\draw[ar] (enLoc.south) -- (enLocU.north);
\draw[ar] (disLoc.south) -- (noTrack.north);
\draw[ar] (noTrack.south) -- (inPostal.north);
\draw[ar] (enLocU.south) -- (track.north);
\draw[ar] (notifs.south) -- (turnNot.north);
\draw[ar] (turnNot.west) -- (disNot.east);
\draw[ar] (turnNot.south) -- (enNot.north);
\draw[ar] (acct.south) -- (chPass.north);
\draw[ar] (chPass.south) -- (confPass.north);
\draw[ar] (confPass.south) -- (newPass.north);
\draw[ar] (confPass.east) -- (chkPass.west);
\draw[ar] (chkPass.east) .. controls (597,-1356) and (590,-1330) .. (badPass.west);
\draw[ar] (chkPass.east) .. controls (597,-1356) and (590,-1383) .. (samePass.west);
\draw[ar] (acct.east) -- (addCC.west);
\draw[ar] (addCC.east) .. controls (610,-1230) and (570,-1116) .. (enterCC.west);
\draw[ar] (enterCC.south) -- (userCC.north);
\draw[ar] (userCC.east) -- (chkCC.west);
\draw[ar] (chkCC.east) -- (badCC.west);
\draw[ar] (badCC.north) -- (enterCC.east);
\draw[ar] (chkCC.south) -- (confirm.east);
\draw[ar] (userCC.south) -- (confirm.north);
\draw[ar,line width=1pt] (confirm.south) -- (paySet.north);
\end{tikzpicture}
\end{document}
